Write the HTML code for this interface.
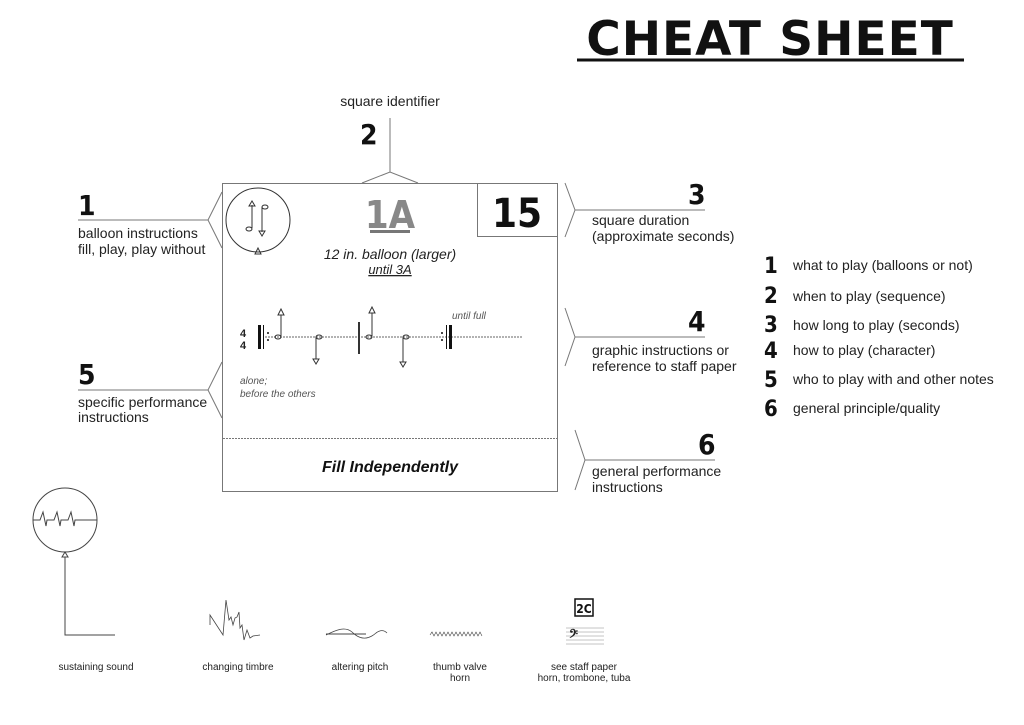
<!DOCTYPE html>
<html><head><meta charset="utf-8"><style>
html,body{margin:0;padding:0;background:#fff}
svg{display:block}
text{font-family:"Liberation Sans",sans-serif;fill:#222}
.n{font-family:"DejaVu Sans Condensed","Liberation Sans",sans-serif;font-weight:bold;font-size:28px;fill:#111}
.t{font-size:14px}
.s{font-size:10px}
</style></head><body>
<svg width="1024" height="725" viewBox="0 0 1024 725" xmlns="http://www.w3.org/2000/svg">
<text x="770" y="55" text-anchor="middle" style="font-family:'DejaVu Sans','Liberation Sans',sans-serif;font-weight:900;font-size:47px;fill:#111;letter-spacing:1px">CHEAT SHEET</text>
<line x1="577" y1="60" x2="964" y2="60" stroke="#111" stroke-width="3"/>

<g stroke="#777" stroke-width="1" fill="none">
<rect x="222.5" y="183.5" width="335" height="308"/>
<rect x="477.5" y="183.5" width="80" height="53"/>
<line x1="223" y1="438.5" x2="557" y2="438.5" stroke-dasharray="2,1"/>
<polyline points="362,183 390,172 418,183"/><line x1="390" y1="118" x2="390" y2="172"/>
<polyline points="222,192 208,220 222,248"/><line x1="78" y1="220" x2="208" y2="220"/>
<polyline points="222,362 208,390 222,418"/><line x1="78" y1="390" x2="208" y2="390"/>
<polyline points="565,183 575,210 565,237"/><line x1="575" y1="210" x2="705" y2="210"/>
<polyline points="565,308 575,337 565,366"/><line x1="575" y1="337" x2="705" y2="337"/>
<polyline points="575,430 585,460 575,490"/><line x1="585" y1="460" x2="715" y2="460"/>
</g>
<text x="390" y="106" text-anchor="middle" class="t">square identifier</text>
<text class="n" x="360" y="144">2</text>
<text class="n" x="78" y="215">1</text>
<text class="t" x="78" y="238">balloon instructions</text>
<text class="t" x="78" y="254">fill, play, play without</text>
<text class="n" x="78" y="384">5</text>
<text class="t" x="78" y="407">specific performance</text>
<text class="t" x="78" y="422">instructions</text>
<text class="n" x="688" y="204">3</text>
<text class="t" x="592" y="225">square duration</text>
<text class="t" x="592" y="241">(approximate seconds)</text>
<text class="n" x="688" y="331">4</text>
<text class="t" x="592" y="355">graphic instructions or</text>
<text class="t" x="592" y="371">reference to staff paper</text>
<text class="n" x="698" y="454">6</text>
<text class="t" x="592" y="476">general performance</text>
<text class="t" x="592" y="492">instructions</text>

<g class="t">
<text class="n" x="764" y="273" style="font-size:22px">1</text><text class="t" x="793" y="270">what to play (balloons or not)</text>
<text class="n" x="764" y="303" style="font-size:22px">2</text><text class="t" x="793" y="301">when to play (sequence)</text>
<text class="n" x="764" y="332" style="font-size:22px">3</text><text class="t" x="793" y="330">how long to play (seconds)</text>
<text class="n" x="764" y="358" style="font-size:22px">4</text><text class="t" x="793" y="355">how to play (character)</text>
<text class="n" x="764" y="387" style="font-size:22px">5</text><text class="t" x="793" y="384">who to play with and other notes</text>
<text class="n" x="764" y="416" style="font-size:22px">6</text><text class="t" x="793" y="413">general principle/quality</text>
</g>

<text x="390" y="228" text-anchor="middle" class="n" style="font-size:38px;fill:#888">1A</text>
<rect x="370" y="230" width="40" height="3" fill="#777"/>
<text x="517" y="227" text-anchor="middle" class="n" style="font-size:40px">15</text>
<text x="390" y="259" text-anchor="middle" style="font-style:italic;font-size:14px">12 in. balloon (larger)</text>
<text x="390" y="274" text-anchor="middle" style="font-style:italic;font-size:13px;text-decoration:underline">until 3A</text>
<g stroke="#333" fill="none">
<circle cx="258" cy="220" r="32"/>
<polygon points="258,248 255,254 261,254"/>
<line x1="252" y1="205" x2="252" y2="228"/><polygon points="252,201 249,206 255,206"/><ellipse cx="249" cy="229" rx="3" ry="2"/>
<line x1="262" y1="207" x2="262" y2="232"/><ellipse cx="265" cy="207" rx="3" ry="2"/><polygon points="262,236 259,231 265,231"/>
<line x1="265" y1="337" x2="522" y2="337" stroke-dasharray="2,1" stroke="#666"/>
<line x1="359" y1="322" x2="359" y2="354" stroke-width="2"/>
<line x1="281" y1="315" x2="281" y2="336"/><polygon points="281,309 278,315 284,315"/><ellipse cx="278" cy="337" rx="3" ry="2"/>
<line x1="316" y1="337" x2="316" y2="359"/><ellipse cx="319" cy="337" rx="3" ry="2"/><polygon points="316,364 313,359 319,359"/>
<line x1="372" y1="313" x2="372" y2="336"/><polygon points="372,307 369,313 375,313"/><ellipse cx="369" cy="337" rx="3" ry="2"/>
<line x1="403" y1="337" x2="403" y2="362"/><ellipse cx="406" cy="337" rx="3" ry="2"/><polygon points="403,367 400,362 406,362"/>
</g>
<rect x="258" y="325" width="3" height="24" fill="#111"/><rect x="263" y="325" width="1" height="24" fill="#111"/>
<circle cx="268" cy="333" r="1" fill="#111"/><circle cx="268" cy="340" r="1" fill="#111"/>
<rect x="446" y="325" width="1" height="24" fill="#111"/><rect x="449" y="325" width="3" height="24" fill="#111"/>
<circle cx="442" cy="333" r="1" fill="#111"/><circle cx="442" cy="340" r="1" fill="#111"/>
<text x="240" y="337" style="font-weight:bold;font-size:11px">4</text><text x="240" y="349" style="font-weight:bold;font-size:11px">4</text>
<text x="452" y="319" style="font-style:italic;font-size:10px;fill:#555">until full</text>
<text x="240" y="384" style="font-style:italic;font-size:10px;fill:#555">alone;</text>
<text x="240" y="397" style="font-style:italic;font-size:10px;fill:#555">before the others</text>
<text x="390" y="472" text-anchor="middle" style="font-style:italic;font-weight:bold;font-size:16px;fill:#111">Fill Independently</text>

<g stroke="#444" fill="none">
<circle cx="65" cy="520" r="32"/>
<polyline points="33,520 40,520 43,512 46,526 47,520 54,520 57,512 60,526 61,520 68,520 71,512 74,526 75,520 97,520"/>
<polygon points="65,552 62,557 68,557"/>
<polyline points="65,557 65,635 115,635"/>
<polyline points="210,625 210,615 223,635 226,600 229,620 231,617 233,625 235,618 237,617 239,612 240,628 242,625 244,640 247,630 250,638 253,636 260,635" stroke-width="0.8"/>
<line x1="326" y1="634" x2="366" y2="634"/>
<path d="M326,635 C336,630 345,626 352,632 C360,640 368,640 376,633 C380,630 384,630 387,633" stroke-width="0.8"/>
<path d="M430,635 l2,-3 l2,4 l2,-4 l2,4 l2,-4 l2,4 l2,-4 l2,4 l2,-4 l2,4 l2,-4 l2,4 l2,-4 l2,4 l2,-4 l2,4 l2,-4 l2,4 l2,-4 l2,4 l2,-4 l2,4 l2,-4 l2,4 l2,-4 l2,4" stroke-width="0.6"/>
<g stroke="#888" stroke-width="0.5"><line x1="566" y1="628" x2="604" y2="628"/><line x1="566" y1="632" x2="604" y2="632"/><line x1="566" y1="636" x2="604" y2="636"/><line x1="566" y1="640" x2="604" y2="640"/><line x1="566" y1="644" x2="604" y2="644"/></g>
</g>
<text x="569" y="640" style="font-size:14px;font-weight:bold">𝄢</text>
<rect x="575" y="599" width="18" height="17" fill="#fff" stroke="#111" stroke-width="1.5"/>
<text x="584" y="613" text-anchor="middle" class="n" style="font-size:12px">2C</text>
<text x="96" y="670" text-anchor="middle" class="s">sustaining sound</text>
<text x="238" y="670" text-anchor="middle" class="s">changing timbre</text>
<text x="360" y="670" text-anchor="middle" class="s">altering pitch</text>
<text x="460" y="670" text-anchor="middle" class="s">thumb valve</text>
<text x="460" y="681" text-anchor="middle" class="s">horn</text>
<text x="584" y="670" text-anchor="middle" class="s">see staff paper</text>
<text x="584" y="681" text-anchor="middle" class="s">horn, trombone, tuba</text>
</svg>
</body></html>
